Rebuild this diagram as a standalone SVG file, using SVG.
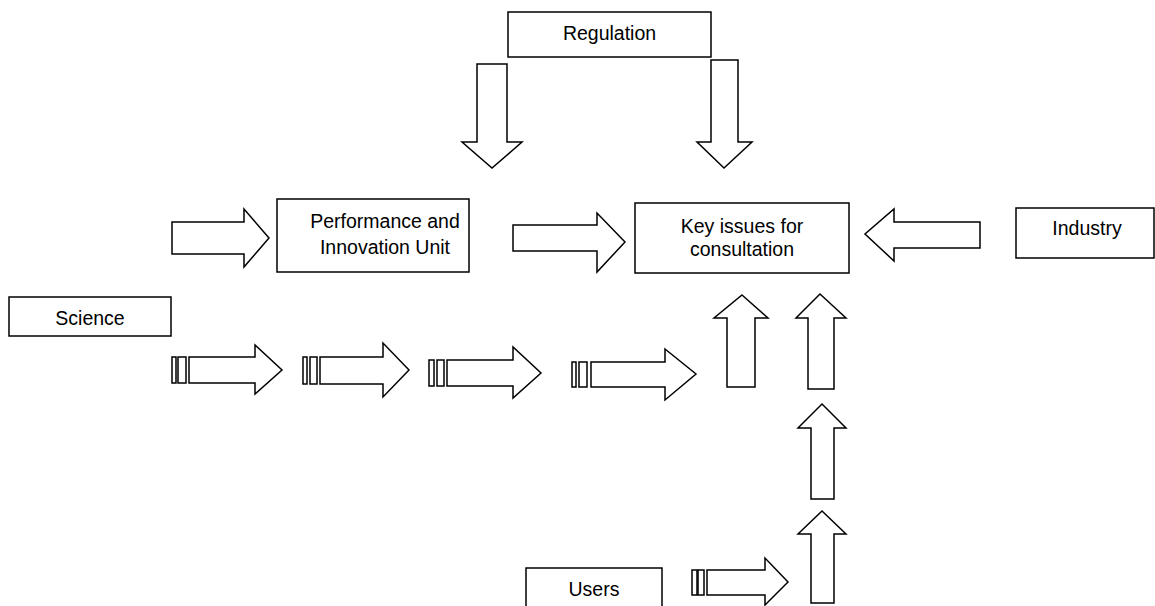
<svg xmlns="http://www.w3.org/2000/svg" width="1155" height="606" viewBox="0 0 1155 606">
  <style>
    .box { fill: #ffffff; stroke: #000000; stroke-width: 1.5; }
    .arrow { fill: #ffffff; stroke: #000000; stroke-width: 1.5; stroke-linejoin: miter; }
    .label { font-family: "Liberation Sans", Arial, sans-serif; font-size: 19.5px; fill: #000000; text-anchor: middle; }
  </style>
  <rect width="1155" height="606" fill="#ffffff"/>

  <!-- Nodes -->
  <g id="regulation">
    <rect class="box" x="508" y="12" width="203" height="45"/>
    <text class="label" x="609.5" y="40">Regulation</text>
  </g>
  <g id="piu">
    <rect class="box" x="277" y="199" width="192" height="73"/>
    <text class="label" x="385" y="228">Performance and</text>
    <text class="label" x="385" y="254">Innovation Unit</text>
  </g>
  <g id="key-issues">
    <rect class="box" x="635" y="203" width="214" height="70"/>
    <text class="label" x="742" y="233">Key issues for</text>
    <text class="label" x="742" y="256">consultation</text>
  </g>
  <g id="industry">
    <rect class="box" x="1016" y="208" width="138" height="50"/>
    <text class="label" x="1087" y="235">Industry</text>
  </g>
  <g id="science">
    <rect class="box" x="9" y="297" width="162" height="39"/>
    <text class="label" x="90" y="325">Science</text>
  </g>
  <g id="users">
    <rect class="box" x="526" y="568" width="136" height="50"/>
    <text class="label" x="594" y="596">Users</text>
  </g>

  <!-- Connectors: block arrows -->
  <g id="connectors">
    <!-- Regulation down arrows -->
    <polygon class="arrow" points="477,64 507,64 507,142 522,142 492,168 462,142 477,142"/>
    <polygon class="arrow" points="711,60 738,60 738,142 752,142 724,168 697,142 711,142"/>

    <!-- Into PIU, PIU to key issues, industry to key issues -->
    <polygon class="arrow" points="172,222 244,222 244,209 269,238 244,267 244,254 172,254"/>
    <polygon class="arrow" points="513,225 597,225 597,213 625,242 597,272 597,251 513,251"/>
    <polygon class="arrow" points="980,222 894,222 894,209 865,234 894,261 894,248 980,248"/>

    <!-- Science chain of striped arrows -->
    <g id="science-arrow-1">
      <rect class="arrow" x="172" y="357" width="4" height="26"/>
      <rect class="arrow" x="178" y="357" width="8" height="26"/>
      <polygon class="arrow" points="189,357 255,357 255,345 282,370 255,394 255,383 189,383"/>
    </g>
    <g id="science-arrow-2">
      <rect class="arrow" x="303" y="357" width="4" height="27"/>
      <rect class="arrow" x="310" y="357" width="7" height="27"/>
      <polygon class="arrow" points="320,357 383,357 383,343 409,370 383,397 383,384 320,384"/>
    </g>
    <g id="science-arrow-3">
      <rect class="arrow" x="429" y="360" width="5" height="26"/>
      <rect class="arrow" x="437" y="360" width="7" height="26"/>
      <polygon class="arrow" points="447,360 513,360 513,347 541,373 513,398 513,386 447,386"/>
    </g>
    <g id="science-arrow-4">
      <rect class="arrow" x="572" y="362" width="4" height="25"/>
      <rect class="arrow" x="579" y="362" width="8" height="25"/>
      <polygon class="arrow" points="591,362 665,362 665,349 696,374 665,400 665,387 591,387"/>
    </g>

    <!-- Up arrows into key issues -->
    <polygon class="arrow" points="742,295 768,318 755,318 755,387 727,387 727,318 714,318"/>
    <polygon class="arrow" points="820,294 846,318 834,318 834,389 808,389 808,318 796,318"/>
    <polygon class="arrow" points="822,404 846,428 834,428 834,499 811,499 811,428 798,428"/>
    <polygon class="arrow" points="822,511 846,534 834,534 834,603 811,603 811,534 798,534"/>

    <!-- Users arrow -->
    <g id="users-arrow">
      <rect class="arrow" x="692" y="570" width="5" height="25"/>
      <rect class="arrow" x="698" y="570" width="6" height="25"/>
      <polygon class="arrow" points="707,570 765,570 765,558 788,582 765,605 765,595 707,595"/>
    </g>
  </g>
</svg>
